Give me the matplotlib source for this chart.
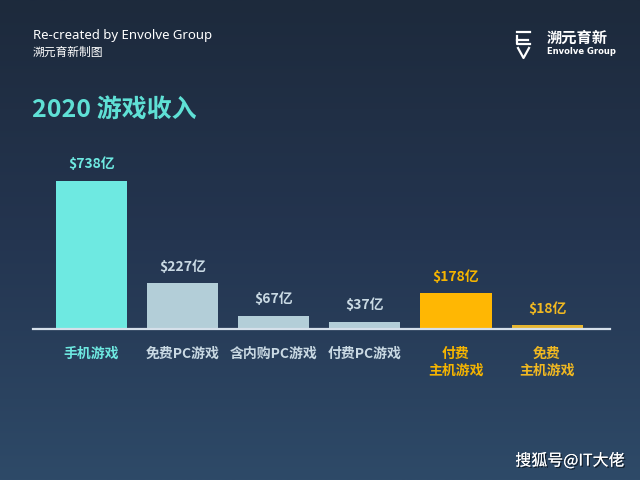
import numpy as np
import matplotlib.pyplot as plt
import matplotlib.patheffects as pe
from matplotlib.colors import LinearSegmentedColormap

plt.rcParams['font.family'] = ['Noto Sans CJK SC', 'DejaVu Sans']

# data
categories = ["手机游戏", "免费PC游戏", "含内购PC游戏", "付费PC游戏", "付费\n主机游戏", "免费\n主机游戏"]
revenue = [738, 227, 67, 37, 178, 18]
value_labels = ["$738亿", "$227亿", "$67亿", "$37亿", "$178亿", "$18亿"]
bar_colors = ["#6ee9e1", "#b3ced8", "#b3ced8", "#b3ced8", "#ffb703", "#e6b630"]
text_colors = ["#6ee9e1", "#c9d9e3", "#c9d9e3", "#c9d9e3", "#f5b400", "#f0b821"]

W, H = 640, 480
fig = plt.figure(figsize=(6.4, 4.8), dpi=100)

# background gradient
bg = fig.add_axes([0, 0, 1, 1])
cmap = LinearSegmentedColormap.from_list("bg", ["#1d2a3c", "#243550", "#2e4a68"])
grad = np.linspace(0, 1, 256).reshape(-1, 1)
bg.imshow(grad, aspect="auto", cmap=cmap, extent=[0, 1, 0, 1], origin="upper")
bg.set_xlim(0, 1)
bg.set_ylim(0, 1)
bg.axis("off")


def fx(px):
    return px / W


def fy(py):
    return 1 - py / H


# header texts
fig.text(fx(33), fy(35), "Re-created by Envolve Group", color="white", fontsize=9.5,
         family="Noto Sans", va="center", ha="left")
fig.text(fx(33), fy(52), "溯元育新制图", color="white", fontsize=8.5, va="center", ha="left")

# logo
lc = "white"
bg.plot([fx(517), fx(530)], [fy(32), fy(32)], color=lc, lw=1.6, transform=fig.transFigure)
bg.plot([fx(517), fx(517), fx(530)], [fy(36), fy(44), fy(44)], color=lc, lw=1.6, transform=fig.transFigure)
bg.plot([fx(517), fx(528)], [fy(39.5), fy(39.5)], color=lc, lw=1.6, transform=fig.transFigure)
bg.plot([fx(518), fx(523.5), fx(529)], [fy(48), fy(58), fy(48)], color=lc, lw=1.6, transform=fig.transFigure)
fig.text(fx(547), fy(38), "溯元育新", color="white", fontsize=11, weight="bold", va="center", ha="left")
fig.text(fx(547), fy(52), "Envolve Group", color="white", fontsize=6, weight="bold",
         family="DejaVu Sans", va="center", ha="left")

# title
fig.text(fx(32), fy(110), "2020 游戏收入", color="#5fe0d5", fontsize=18, weight="bold",
         va="center", ha="left")

# chart
ax = fig.add_axes([fx(33), fy(329), (610 - 33) / W, 148 / H])
ax.patch.set_alpha(0)
x = np.arange(len(categories))
ax.bar(x, revenue, width=0.78, color=bar_colors, zorder=2)
ax.set_xlim(-0.64, 5.69)
ax.set_ylim(0, 738)
ax.axhline(0, color="#d5e0ea", lw=1.6, zorder=3, clip_on=False)
for s in ax.spines.values():
    s.set_visible(False)
ax.set_xticks([])
ax.set_yticks([])

for i, v in enumerate(revenue):
    ax.annotate(value_labels[i], (x[i], v), xytext=(0, 7), textcoords="offset points",
                ha="center", va="bottom", color=text_colors[i], fontsize=10,
                weight="bold", annotation_clip=False)
    ax.annotate(categories[i], (x[i], 0), xytext=(0, -13), textcoords="offset points",
                ha="center", va="top", color=text_colors[i], fontsize=10,
                weight="bold", linespacing=1.2, annotation_clip=False)

# watermark
fig.text(fx(570), fy(461), "搜狐号@IT大佬", color="white", fontsize=11.5,
         va="center", ha="center",
         path_effects=[pe.withSimplePatchShadow(offset=(1, -1), shadow_rgbFace="black", alpha=0.6),
                       pe.Normal()])

fig.savefig("out.png", dpi=100)
